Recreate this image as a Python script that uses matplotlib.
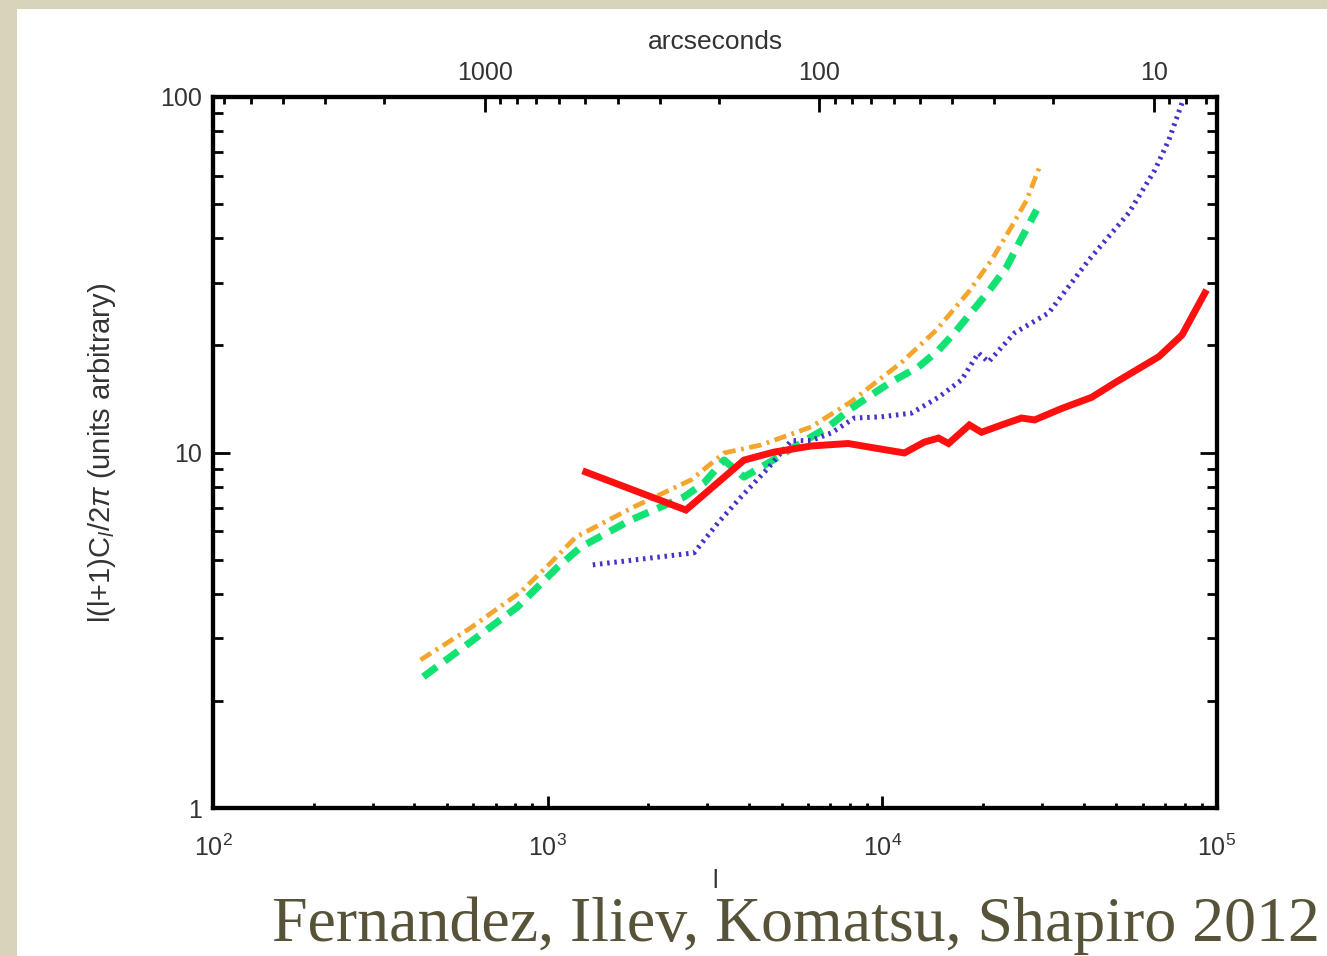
import numpy as np
import matplotlib
matplotlib.use('Agg')
import matplotlib.pyplot as plt
from matplotlib.patches import Rectangle
from matplotlib.ticker import LogLocator, NullFormatter, FixedLocator, FixedFormatter

plt.rcParams['font.family'] = ['Liberation Sans', 'DejaVu Sans']
plt.rcParams['mathtext.fontset'] = 'custom'
plt.rcParams['mathtext.rm'] = 'Liberation Sans'
plt.rcParams['mathtext.it'] = 'Liberation Sans:italic'
plt.rcParams['lines.scale_dashes'] = False

# multipole l and l(l+1)C_l/2pi
l_orange = [417, 588, 830, 1020, 1213, 1809, 2680, 3365, 4345, 6125, 8070, 9930,
            11400, 14500, 18100, 21200, 24300, 27000, 29500]
c_orange = [2.61, 3.21, 4.05, 4.89, 5.78, 7.03, 8.37, 9.97, 10.5, 11.8, 13.9, 16.2,
            17.9, 22.1, 28.3, 34.8, 43.1, 51.3, 63.6]

l_green = [425, 588, 813, 1071, 1256, 1772, 2555, 2931, 3365, 3861, 4557, 5454, 6890,
           8070, 9460, 10640, 12820, 14720, 16430, 18720, 20900, 23500, 25700, 28900]
c_green = [2.34, 2.93, 3.68, 4.76, 5.42, 6.46, 7.50, 8.21, 9.52, 8.53, 9.34, 10.36, 11.8,
           13.3, 14.7, 15.8, 17.4, 19.4, 21.7, 25.2, 28.6, 33.2, 39.1, 48.1]

l_purple = [1364, 2736, 3228, 3783, 4557, 5343, 6125, 7036, 8245, 9930, 12210, 14720,
            17240, 19370, 20760, 24840, 31400, 41400, 54500, 65200, 71800, 78600, 84200]
c_purple = [4.83, 5.22, 6.34, 7.50, 9.04, 10.8, 10.8, 11.35, 12.5, 12.6, 12.9, 14.3,
            16.0, 19.05, 17.98, 21.7, 24.7, 34.8, 47.2, 62.3, 75.7, 96.2, 111.6]

l_red = [1300, 2589, 3861, 4750, 6125, 7910, 9460, 11640, 13360, 14720, 15770, 18200,
         19790, 22700, 26060, 28510, 34360, 42250, 49500, 67000, 78600, 92000]
c_red = [8.81, 6.89, 9.52, 10.03, 10.43, 10.6, 10.3, 9.97, 10.7, 10.98, 10.6, 11.95,
         11.4, 11.95, 12.5, 12.35, 13.3, 14.3, 15.7, 18.6, 21.4, 28.1]

arcsec_major = [1000, 100, 10]
arcsec_minor = [6000, 5000, 4000, 3000, 2000, 900, 800, 700, 600, 500, 400, 300, 200,
                90, 80, 70, 60, 50, 40, 30, 20, 9, 8, 7]

txt = '#333333'

fig = plt.figure(figsize=(13.27, 9.56), dpi=100, facecolor='#d8d4bb')
fig.patches.append(Rectangle((17 / 1327, 0), 1, 1 - 9 / 956, transform=fig.transFigure,
                             facecolor='white', edgecolor='none', zorder=-1))

ax = fig.add_axes([213 / 1327, (956 - 808) / 956, (1217 - 213) / 1327, (808 - 97) / 956])
ax.set_facecolor('white')

ax.plot(l_orange, c_orange, color='#f3a52c', lw=3.4, dashes=(9, 4, 2, 4))
ax.plot(l_green, c_green, color='#12e272', lw=5.2, dashes=(12, 7))
ax.plot(l_purple, c_purple, color='#4a2fcc', lw=3.6, dashes=(1.8, 3.4))
ax.plot(l_red, c_red, color='#ff1010', lw=5.0, solid_joinstyle='miter')

ax.set_xscale('log')
ax.set_yscale('log')
ax.set_xlim(100, 1e5)
ax.set_ylim(1, 100)

for s in ax.spines.values():
    s.set_linewidth(3.0)

ax.xaxis.set_minor_locator(LogLocator(base=10, subs=np.arange(2, 10)))
ax.xaxis.set_minor_formatter(NullFormatter())
ax.yaxis.set_major_locator(FixedLocator([1, 10, 100]))
ax.yaxis.set_major_formatter(FixedFormatter(['1', '10', '100']))
ax.yaxis.set_minor_locator(LogLocator(base=10, subs=np.arange(2, 10)))
ax.yaxis.set_minor_formatter(NullFormatter())

ax.tick_params(axis='x', which='both', direction='in', top=False, bottom=True,
               width=2.0, labelsize=18, labelcolor=txt, pad=19)
ax.tick_params(axis='x', which='major', length=9)
ax.tick_params(axis='x', which='minor', length=3.8)
ax.tick_params(axis='y', which='both', direction='in', left=True, right=True,
               width=2.0, labelsize=18, labelcolor=txt, pad=8)
ax.tick_params(axis='y', which='major', length=12)
ax.tick_params(axis='y', which='minor', length=7)

ax.set_ylabel(r'l(l+1)C$_l$/2$\pi$ (units arbitrary)', fontsize=21, color=txt,
              labelpad=30)
ax.set_xlabel('l', fontsize=18, color=txt, labelpad=6)

# arcseconds along the top (theta = 648000 / l)
top = ax.twiny()
top.set_xscale('log')
top.set_xlim(ax.get_xlim())
top.xaxis.set_major_locator(FixedLocator([648000.0 / t for t in arcsec_major]))
top.xaxis.set_major_formatter(FixedFormatter([str(t) for t in arcsec_major]))
top.xaxis.set_minor_locator(FixedLocator([648000.0 / t for t in arcsec_minor]))
top.xaxis.set_minor_formatter(NullFormatter())
top.tick_params(axis='x', which='both', direction='in', width=2.0, labelsize=18,
                labelcolor=txt, pad=9, bottom=False, top=True)
top.tick_params(axis='x', which='major', length=11)
top.tick_params(axis='x', which='minor', length=5)
for s in top.spines.values():
    s.set_linewidth(3.0)
top.set_xlabel('arcseconds', fontsize=19, color=txt, labelpad=8)

fig.text(1320 / 1327, 1 - 941 / 956, 'Fernandez, Iliev, Komatsu, Shapiro 2012',
         ha='right', va='baseline', fontsize=46, color='#575339',
         family=['Liberation Serif', 'DejaVu Serif'])

fig.savefig('out.png', dpi=100, facecolor=fig.get_facecolor())
